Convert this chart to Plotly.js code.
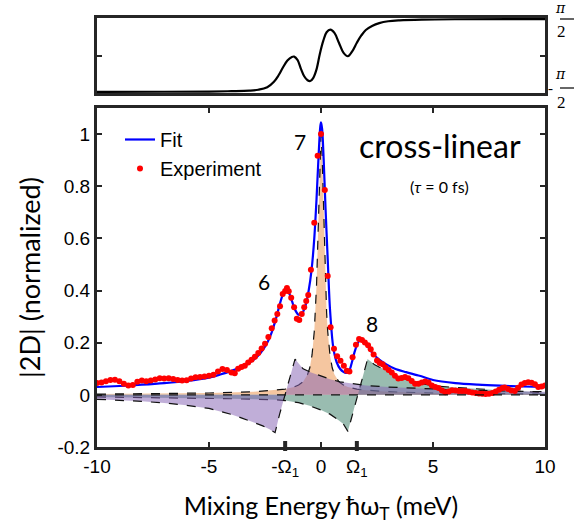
<!DOCTYPE html>
<html><head><meta charset="utf-8">
<script src="https://cdn.plot.ly/plotly-3.0.1.min.js"></script>
<style>html,body{margin:0;padding:0;background:#fff}#plot{width:576px;height:527px}</style>
</head><body><div id="plot"></div>
<script>
// ---- data ----
const OMEGA1 = 1.6;
const fitX = [-10,-9,-8,-7,-6,-5,-4.5,-4,-3.5,-3,-2.7,-2.4,-2.2,-2.0,-1.85,-1.7,-1.56,-1.45,-1.3,-1.15,-1.0,-0.85,-0.7,-0.55,-0.42,-0.3,-0.2,-0.1,-0.03,0,0.05,0.12,0.2,0.3,0.4,0.55,0.7,0.85,1.0,1.12,1.25,1.38,1.5,1.65,1.75,1.9,2.05,2.3,2.6,2.9,3.3,3.8,4.4,5,6,7,8,9,10];
const fitY = [0.03,0.034,0.039,0.045,0.053,0.066,0.078,0.092,0.108,0.135,0.16,0.2,0.24,0.295,0.345,0.385,0.402,0.395,0.36,0.325,0.307,0.312,0.34,0.40,0.48,0.6,0.75,0.93,1.03,1.045,1.02,0.90,0.72,0.52,0.33,0.18,0.125,0.1,0.088,0.084,0.09,0.125,0.165,0.2,0.21,0.205,0.19,0.16,0.135,0.118,0.1,0.087,0.073,0.057,0.045,0.039,0.035,0.032,0.03];

const expX = [-10,-9.8,-9.6,-9.4,-9.2,-9.0,-8.8,-8.6,-8.4,-8.2,-8.0,-7.8,-7.6,-7.4,-7.2,-7.0,-6.8,-6.6,-6.4,-6.2,-6.0,-5.8,-5.6,-5.4,-5.2,-5.0,-4.8,-4.6,-4.4,-4.2,-4.0,-3.85,-3.7,-3.55,-3.4,-3.25,-3.1,-2.95,-2.8,-2.65,-2.5,-2.35,-2.2,-2.07,-1.95,-1.83,-1.71,-1.6,-1.52,-1.44,-1.33,-1.2,-1.08,-0.97,-0.86,-0.75,-0.66,-0.57,-0.45,-0.3,-0.15,0,0.17,0.3,0.43,0.58,0.72,0.87,1.02,1.15,1.27,1.41,1.56,1.7,1.83,1.96,2.1,2.22,2.35,2.5,2.62,2.75,2.88,3.02,3.16,3.3,3.45,3.6,3.75,3.9,4.05,4.2,4.35,4.5,4.65,4.8,4.95,5.1,5.25,5.4,5.55,5.7,5.85,6.0,6.15,6.3,6.45,6.6,6.75,6.9,7.05,7.2,7.35,7.5,7.65,7.8,7.95,8.1,8.2,8.35,8.5,8.65,8.8,8.95,9.1,9.25,9.4,9.55,9.7,9.85,10];
const expY = [0.045,0.047,0.052,0.057,0.058,0.052,0.043,0.036,0.038,0.05,0.055,0.052,0.055,0.059,0.064,0.063,0.064,0.061,0.057,0.055,0.056,0.063,0.067,0.068,0.07,0.073,0.077,0.09,0.099,0.095,0.086,0.083,0.1,0.107,0.112,0.124,0.135,0.146,0.16,0.178,0.196,0.222,0.255,0.285,0.31,0.34,0.387,0.398,0.41,0.397,0.372,0.336,0.292,0.287,0.31,0.336,0.36,0.383,0.48,0.66,0.917,1.0,0.786,0.456,0.259,0.177,0.148,0.131,0.112,0.092,0.09,0.144,0.192,0.214,0.21,0.201,0.19,0.175,0.155,0.132,0.122,0.117,0.105,0.095,0.086,0.073,0.063,0.065,0.068,0.064,0.053,0.043,0.043,0.047,0.051,0.047,0.036,0.03,0.026,0.017,0.01,0.013,0.018,0.017,0.015,0.015,0.015,0.012,0.009,0.007,0.005,0.004,0.003,0.004,0.007,0.013,0.02,0.026,0.028,0.022,0.017,0.015,0.027,0.04,0.045,0.048,0.046,0.041,0.03,0.032,0.036];

// component 7 (orange)
const c7X = [-10,-5,-3,-2,-1.6,-1.2,-1.0,-0.8,-0.6,-0.5,-0.4,-0.3,-0.25,-0.2,-0.15,-0.1,-0.05,0,0.05,0.1,0.15,0.2,0.25,0.3,0.4,0.5,0.6,0.8,1.0,1.2,1.6,2,3,5,10];
const c7Y = [0.003,0.007,0.012,0.018,0.022,0.03,0.038,0.05,0.078,0.104,0.153,0.243,0.316,0.419,0.562,0.743,0.92,0.995,0.92,0.743,0.562,0.419,0.316,0.243,0.153,0.104,0.078,0.05,0.038,0.03,0.022,0.018,0.012,0.007,0.003];
// component 6 (purple)
const c6X = [-10,-9,-8,-7,-6,-5,-4.4,-4,-3.5,-3,-2.6,-2.3,-2.05,-1.85,-1.6,-1.4,-1.16,-0.95,-0.8,-0.5,-0.2,0,0.4,0.85,1.2,1.6,2,3,4.4,6,8,10];
const c6Y = [-0.017,-0.02,-0.025,-0.031,-0.04,-0.052,-0.066,-0.075,-0.09,-0.105,-0.119,-0.132,-0.145,-0.075,0,0.07,0.137,0.115,0.1,0.088,0.078,0.073,0.06,0.05,0.045,0.04,0.036,0.03,0.024,0.019,0.015,0.012];
// component 8 (green)
const c8X = [-10,-8,-6,-4,-2,-1.6,-1.0,-0.5,0,0.4,0.8,1.0,1.2,1.42,1.62,1.85,2.08,2.4,2.78,3.2,3.53,4.2,5,6,7.25,8.5,10];
const c8Y = [-0.008,-0.01,-0.012,-0.015,-0.019,-0.022,-0.03,-0.042,-0.058,-0.074,-0.098,-0.112,-0.14,-0.07,0,0.07,0.137,0.115,0.099,0.08,0.067,0.048,0.035,0.028,0.022,0.015,0.008];

// phase (in units of pi/2)
const phX = [-10,-7,-5,-4,-3.2,-2.8,-2.4,-2.1,-1.9,-1.7,-1.5,-1.3,-1.2,-1.05,-0.9,-0.75,-0.6,-0.48,-0.35,-0.2,-0.05,0.1,0.25,0.42,0.6,0.8,1.0,1.2,1.4,1.6,1.8,2.0,2.3,2.6,3.0,3.5,4.5,6,10];
const phY = [-1.0,-0.995,-0.99,-0.98,-0.965,-0.94,-0.87,-0.72,-0.55,-0.33,-0.14,-0.04,-0.03,-0.12,-0.36,-0.57,-0.68,-0.70,-0.62,-0.38,0.05,0.40,0.64,0.71,0.62,0.35,0.08,-0.02,0.12,0.35,0.55,0.70,0.82,0.89,0.94,0.965,0.985,0.995,1.0];

const xTickVals = [-10,-5,-OMEGA1,0,OMEGA1,5,10];
const xTickText = ['-10','-5','-Ω<sub>1</sub>','0','Ω<sub>1</sub>','5','10'];
const xTopTickVals = [-10,-5,0,5,10];
const yTickVals = [-0.2,0,0.2,0.4,0.6,0.8,1];
const yTickText = ['-0.2','0','0.2','0.4','0.6','0.8','1'];

// ---- figure ----
const AX = '#262626';
const SANS = 'Liberation Sans, Arial, sans-serif';
const CAL = 'Lato, Open Sans, sans-serif';
const dashLine = {color:'#111', dash:'dash', width:1.2};
const traces = [
  {x:c7X, y:c7Y, type:'scatter', mode:'lines', fill:'tozeroy', fillcolor:'rgba(235,141,65,0.5)', line:dashLine, showlegend:false, xaxis:'x', yaxis:'y'},
  {x:c8X, y:c8Y, type:'scatter', mode:'lines', fill:'tozeroy', fillcolor:'rgba(59,127,103,0.52)', line:dashLine, showlegend:false},
  {x:c6X, y:c6Y, type:'scatter', mode:'lines', fill:'tozeroy', fillcolor:'rgba(135,100,180,0.52)', line:dashLine, showlegend:false},
  {x:fitX, y:fitY, type:'scatter', mode:'lines', name:'Fit', line:{color:'#0000ff', width:2.2, shape:'spline', smoothing:0.8}},
  {x:expX, y:expY, type:'scatter', mode:'markers', name:'Experiment', marker:{color:'#ff0000', size:6}},
  {x:phX, y:phY, type:'scatter', mode:'lines', line:{color:'#000', width:2.2, shape:'spline', smoothing:1}, showlegend:false, xaxis:'x2', yaxis:'y2'},
  {x:[xTopTickVals[0]], y:[0], type:'scatter', mode:'markers', marker:{opacity:0}, showlegend:false, hoverinfo:'skip', xaxis:'x3', yaxis:'y'}
];

const dom = [97/576, 545/576];
const py = p => (527 - p) / 527;   // pixel row -> paper fraction (for label placement)
const layout = {
  width:576, height:527,
  margin:{l:0,r:0,t:0,b:0},
  paper_bgcolor:'#fff', plot_bgcolor:'rgba(0,0,0,0)',
  showlegend:true,
  font:{family:SANS, color:'#000'},
  xaxis:{domain:dom, range:[-10,10], anchor:'y', tickvals:xTickVals, ticktext:xTickText,
    ticks:'inside', ticklen:5, tickwidth:2, tickcolor:AX, showline:true, linewidth:3, linecolor:AX, mirror:true,
    showgrid:false, zeroline:false, tickfont:{size:19, family:SANS, color:'#000'},
    title:{text:'Mixing Energy ħω<sub>T</sub> (meV)', font:{size:25, family:CAL, color:'#000'}, standoff:19}},
  xaxis3:{overlaying:'x', side:'top', anchor:'y', range:[-10,10], tickvals:xTopTickVals, showticklabels:false,
    ticks:'inside', ticklen:5, tickwidth:2, tickcolor:AX, showline:false, showgrid:false, zeroline:false},
  yaxis:{domain:[80/527, 419/527], range:[-0.2,1.1], anchor:'x', tickvals:yTickVals, ticktext:yTickText,
    ticks:'inside', ticklen:5, tickwidth:2, tickcolor:AX, showline:true, linewidth:3, linecolor:AX, mirror:'ticks',
    showgrid:false, zeroline:false, tickfont:{size:19, family:SANS, color:'#000'},
    title:{text:'|2D| (normalized)', font:{size:27, family:CAL, color:'#000'}, standoff:10}},
  xaxis2:{domain:dom, range:[-10,10], anchor:'y2', showticklabels:false, ticks:'', showline:true, linewidth:3, linecolor:AX, mirror:true, showgrid:false, zeroline:false},
  yaxis2:{domain:[434/527, 509/527], range:[-1.03,1.03], anchor:'x2', tickvals:[0], showticklabels:false, ticks:'inside', ticklen:5, tickwidth:2, tickcolor:AX,
    showline:true, linewidth:3, linecolor:AX, mirror:'ticks', showgrid:false, zeroline:false},
  legend:{x:120/576, y:(527-120)/527, xanchor:'left', yanchor:'top', bgcolor:'rgba(0,0,0,0)', font:{size:20, family:SANS}, tracegroupgap:2},
  shapes:[
    {type:'line', xref:'x', yref:'y', x0:-10, x1:10, y0:0, y1:0, line:{color:'#111', dash:'dash', width:1.2}},
    {type:'line', xref:'x', yref:'paper', x0:-OMEGA1, x1:-OMEGA1, y0:76/527, y1:86/527, line:{color:AX, width:4}},
    {type:'line', xref:'x', yref:'paper', x0:OMEGA1, x1:OMEGA1, y0:76/527, y1:86/527, line:{color:AX, width:4}},
    {type:'line', xref:'paper', yref:'paper', x0:560/576, x1:574/576, y0:py(19), y1:py(19), line:{color:'#000', width:1.2}},
    {type:'line', xref:'paper', yref:'paper', x0:560/576, x1:574/576, y0:py(88), y1:py(88), line:{color:'#000', width:1.2}}
  ],
  annotations:[
    {xref:'x', yref:'y', x:5.3, y:0.958, text:'cross-linear', showarrow:false, font:{size:32, family:CAL, color:'#000'}},
    {xref:'x', yref:'y', x:5.3, y:0.80, text:'(<i>τ</i> = 0 fs)', showarrow:false, font:{size:16, family:CAL, color:'#000'}},
    {xref:'x', yref:'y', x:-0.94, y:0.97, text:'7', showarrow:false, font:{size:21, family:CAL, color:'#000'}},
    {xref:'x', yref:'y', x:-2.54, y:0.435, text:'6', showarrow:false, font:{size:21, family:CAL, color:'#000'}},
    {xref:'x', yref:'y', x:2.28, y:0.273, text:'8', showarrow:false, font:{size:21, family:CAL, color:'#000'}},
    {xref:'paper', yref:'paper', x:567/576, y:py(8.5), yanchor:'middle', borderpad:0, text:'<i>π</i>', showarrow:false, font:{size:14, family:'DejaVu Serif, serif', color:'#000'}},
    {xref:'paper', yref:'paper', x:567/576, y:py(31), yanchor:'middle', borderpad:0, text:'2', showarrow:false, font:{size:17, family:'Liberation Serif, serif', color:'#000'}},
    {xref:'paper', yref:'paper', x:567/576, y:py(74), yanchor:'middle', borderpad:0, text:'<i>π</i>', showarrow:false, font:{size:14, family:'DejaVu Serif, serif', color:'#000'}},
    {xref:'paper', yref:'paper', x:567/576, y:py(102), yanchor:'middle', borderpad:0, text:'2', showarrow:false, font:{size:17, family:'Liberation Serif, serif', color:'#000'}},
    {xref:'paper', yref:'paper', x:554/576, y:py(88), yanchor:'middle', borderpad:0, text:'-', showarrow:false, font:{size:15, family:'Liberation Serif, serif', color:'#000'}}
  ]
};
Plotly.newPlot('plot', traces, layout, {staticPlot:true, displayModeBar:false});
</script></body></html>
